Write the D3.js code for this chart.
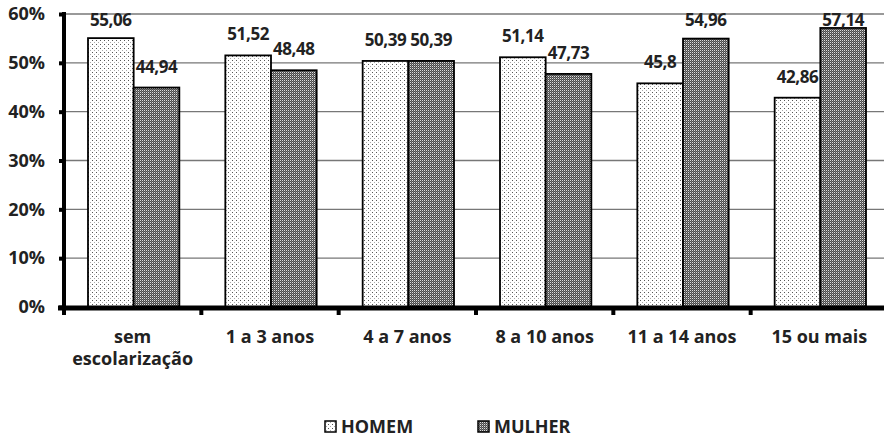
<!DOCTYPE html>
<html>
<head>
<meta charset="utf-8">
<script src="https://cdn.jsdelivr.net/npm/d3@7"></script>
<style>
  body { margin: 0; background: #fff; }
  text { font-family: "Open Sans", Lato, sans-serif; font-weight: bold; fill: #222; }
</style>
</head>
<body>
<div id="chart"></div>
<script>
// categories and series
const categories = ["sem escolarização", "1 a 3 anos", "4 a 7 anos", "8 a 10 anos", "11 a 14 anos", "15 ou mais"];
const seriesNames = ["HOMEM", "MULHER"];
const homem = [55.06, 51.52, 50.39, 51.14, 45.8, 42.86];
const mulher = [44.94, 48.48, 50.39, 47.73, 54.96, 57.14];
const homemLabels = ["55,06", "51,52", "50,39", "51,14", "45,8", "42,86"];
const mulherLabels = ["44,94", "48,48", "50,39", "47,73", "54,96", "57,14"];
const yTicks = [0, 10, 20, 30, 40, 50, 60];

const width = 884, height = 438;
const plotLeft = 64, plotRight = 888, plotTop = 14, plotBottom = 307;

const svg = d3.select("#chart")
  .append("svg")
  .attr("width", width)
  .attr("height", height);

// fill patterns
const defs = svg.append("defs");
const pDots = defs.append("pattern")
  .attr("id", "dots")
  .attr("width", 4).attr("height", 4)
  .attr("patternUnits", "userSpaceOnUse");
pDots.append("rect").attr("width", 4).attr("height", 4).attr("fill", "#fff");
pDots.append("rect").attr("x", 0).attr("y", 0).attr("width", 1).attr("height", 1).attr("fill", "#555");
pDots.append("rect").attr("x", 2).attr("y", 2).attr("width", 1).attr("height", 1).attr("fill", "#aaa");

const pCheck = defs.append("pattern")
  .attr("id", "check")
  .attr("width", 2).attr("height", 2)
  .attr("patternUnits", "userSpaceOnUse");
pCheck.append("rect").attr("width", 2).attr("height", 2).attr("fill", "#4a4a4a");
pCheck.append("rect").attr("x", 0).attr("y", 0).attr("width", 1).attr("height", 1).attr("fill", "#ddd");
pCheck.append("rect").attr("x", 1).attr("y", 1).attr("width", 1).attr("height", 1).attr("fill", "#777");

const x = d3.scaleBand().domain(categories).range([plotLeft, plotRight]);
const xs = d3.scaleBand().domain(seriesNames).range([24, x.bandwidth() - 22]);
const y = d3.scaleLinear().domain([0, 60]).range([plotBottom, plotTop]);

// gridlines
svg.append("g")
  .selectAll("line")
  .data(yTicks.slice(1))
  .enter()
  .append("line")
  .attr("x1", plotLeft).attr("x2", width)
  .attr("y1", d => y(d)).attr("y2", d => y(d))
  .attr("stroke", "#777")
  .attr("stroke-width", 1.3);

// bars
const series = [
  { name: "HOMEM", values: homem, labels: homemLabels, fill: "url(#dots)" },
  { name: "MULHER", values: mulher, labels: mulherLabels, fill: "url(#check)" }
];

series.forEach(s => {
  svg.append("g")
    .selectAll("rect")
    .data(s.values)
    .enter()
    .append("rect")
    .attr("x", (d, i) => x(categories[i]) + xs(s.name))
    .attr("y", d => y(d))
    .attr("width", xs.bandwidth())
    .attr("height", d => y(0) - y(d))
    .attr("fill", s.fill)
    .attr("stroke", "#000")
    .attr("stroke-width", 1.8);
});

series.forEach(s => {
  svg.append("g")
    .selectAll("text")
    .data(s.values)
    .enter()
    .append("text")
    .attr("x", (d, i) => x(categories[i]) + xs(s.name) + xs.bandwidth() / 2)
    .attr("y", d => Math.max(y(d) - 15, 26))
    .attr("text-anchor", "middle")
    .attr("font-size", 17)
    .attr("letter-spacing", -0.4)
    .text((d, i) => s.labels[i]);
});

// y axis
const yAxis = svg.append("g")
  .attr("transform", `translate(${plotLeft},0)`)
  .call(d3.axisLeft(y).tickValues(yTicks).tickFormat(d => d + "%").tickSize(5).tickPadding(14));
yAxis.select(".domain").attr("stroke", "#000").attr("stroke-width", 4).attr("d", `M0,${plotTop - 2}V${plotBottom}`);
yAxis.selectAll(".tick line").attr("stroke", "#000").attr("stroke-width", 4);
yAxis.selectAll(".tick text").attr("font-size", 18).attr("fill", "#222");

// x axis
const xAxis = svg.append("g")
  .attr("transform", `translate(0,${plotBottom})`);
xAxis.append("line")
  .attr("x1", plotLeft - 6).attr("x2", width)
  .attr("y1", 1).attr("y2", 1)
  .attr("stroke", "#000").attr("stroke-width", 5);
xAxis.selectAll("line.tk")
  .data(categories)
  .enter()
  .append("line")
  .attr("class", "tk")
  .attr("x1", d => x(d)).attr("x2", d => x(d))
  .attr("y1", 0).attr("y2", 8)
  .attr("stroke", "#000").attr("stroke-width", 4);

const xl = xAxis.selectAll("text")
  .data(categories)
  .enter()
  .append("text")
  .attr("y", 36)
  .attr("text-anchor", "middle")
  .attr("font-size", 18);
xl.each(function(d) {
  const parts = d === "sem escolarização" ? ["sem", "escolarização"] : [d];
  const t = d3.select(this);
  parts.forEach((p, i) => {
    t.append("tspan")
      .attr("x", x(d) + x.bandwidth() / 2)
      .attr("dy", i === 0 ? 0 : 22)
      .text(p);
  });
});

// legend
const legendX = [325, 478];
const legend = svg.append("g");
series.forEach((s, i) => {
  legend.append("rect")
    .attr("x", legendX[i]).attr("y", 421)
    .attr("width", 11).attr("height", 11)
    .attr("fill", s.fill)
    .attr("stroke", "#000").attr("stroke-width", 1.5);
  legend.append("text")
    .attr("x", legendX[i] + 16).attr("y", 433)
    .attr("font-size", 18)
    .text(s.name);
});
</script>
</body>
</html>
